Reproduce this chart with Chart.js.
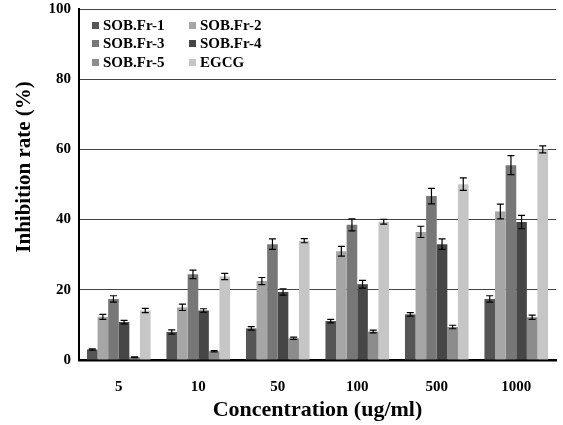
<!DOCTYPE html>
<html>
<head>
<meta charset="utf-8">
<script src="https://cdn.jsdelivr.net/npm/chart.js@4/dist/chart.umd.min.js"></script>
<style>
  body { margin: 0; background: #fff; }
  #wrap { position: relative; width: 563px; height: 425px; }
  #legend {
    position: absolute; left: 92px; top: 16px;
    display: grid; grid-template-columns: 97px 90px; row-gap: 0;
    font: bold 15px "Liberation Serif", serif; color: #000;
  }
  #legend .item { display: flex; align-items: center; height: 18.5px; }
  #legend .box { width: 7px; height: 7px; margin-right: 4px; }
</style>
</head>
<body>
<div id="wrap">
  <canvas id="chart" width="563" height="425"></canvas>
  <div id="legend"></div>
</div>
<script>
const categories = ['5', '10', '50', '100', '500', '1000'];
const seriesNames = ['SOB.Fr-1', 'SOB.Fr-2', 'SOB.Fr-3', 'SOB.Fr-4', 'SOB.Fr-5', 'EGCG'];
const seriesColors = ['#555555', '#a6a6a6', '#777777', '#464646', '#8c8c8c', '#c6c6c6'];

const fr1 = [3.0, 8.0, 9.0, 11.1, 13.0, 17.4];
const fr2 = [12.3, 15.0, 22.5, 31.0, 36.5, 42.3];
const fr3 = [17.4, 24.4, 33.0, 38.5, 46.7, 55.5];
const fr4 = [10.8, 14.1, 19.4, 21.6, 33.0, 39.3];
const fr5 = [0.8, 2.5, 6.2, 8.1, 9.4, 12.2];
const egcg = [14.1, 23.8, 34.0, 39.4, 50.1, 60.0];

const fr1Err = [0.2, 0.6, 0.5, 0.5, 0.5, 0.9];
const fr2Err = [0.7, 0.9, 1.0, 1.4, 1.6, 2.1];
const fr3Err = [0.9, 1.2, 1.5, 1.7, 2.2, 2.7];
const fr4Err = [0.5, 0.5, 0.9, 1.1, 1.5, 1.9];
const fr5Err = [0.1, 0.2, 0.3, 0.4, 0.5, 0.6];
const egcgErr = [0.6, 0.9, 0.6, 0.7, 1.8, 1.0];

const seriesValues = [fr1, fr2, fr3, fr4, fr5, egcg];
const seriesErrors = [fr1Err, fr2Err, fr3Err, fr4Err, fr5Err, egcgErr];

const yTitle = 'Inhibition rate (%)';
const serif = '"Liberation Serif", "Times New Roman", serif';

// error bars drawn on top of every bar
const errorBars = {
    id: 'errorBars',
    afterDatasetsDraw(chart) {
        const ctx = chart.ctx;
        const y = chart.scales.y;
        ctx.save();
        ctx.strokeStyle = '#000';
        ctx.lineWidth = 1.2;
        chart.data.datasets.forEach((ds, i) => {
            const meta = chart.getDatasetMeta(i);
            meta.data.forEach((bar, j) => {
                const v = ds.data[j];
                const e = ds.errors[j];
                const top = y.getPixelForValue(v + e);
                const bot = y.getPixelForValue(v - e);
                const x = bar.x;
                ctx.beginPath();
                ctx.moveTo(x, top); ctx.lineTo(x, bot);
                ctx.moveTo(x - 3.5, top); ctx.lineTo(x + 3.5, top);
                ctx.moveTo(x - 3.5, bot); ctx.lineTo(x + 3.5, bot);
                ctx.stroke();
            });
        });
        ctx.restore();
    }
};

// y title sits a bit above the middle of the plot in the original
const yTitleDraw = {
    id: 'yTitleDraw',
    afterDraw(chart) {
        const ctx = chart.ctx;
        const area = chart.chartArea;
        ctx.save();
        ctx.translate(25, area.top + (area.bottom - area.top) * 0.45);
        ctx.rotate(-Math.PI / 2);
        ctx.font = 'bold 21px ' + serif;
        ctx.fillStyle = '#000';
        ctx.textAlign = 'center';
        ctx.textBaseline = 'middle';
        ctx.fillText(yTitle, 0, 0);
        ctx.restore();
    }
};

const datasets = seriesNames.map((name, i) => ({
    label: name,
    data: seriesValues[i],
    errors: seriesErrors[i],
    backgroundColor: seriesColors[i],
    categoryPercentage: 0.8,
    barPercentage: 1.0
}));

new Chart(document.getElementById('chart'), {
    type: 'bar',
    data: { labels: categories, datasets: datasets },
    options: {
        responsive: false,
        animation: false,
        layout: { padding: { top: 9, right: 7, left: 0, bottom: 0 } },
        plugins: {
            legend: { display: false },
            tooltip: { enabled: false }
        },
        scales: {
            y: {
                min: 0,
                max: 100,
                ticks: {
                    stepSize: 20,
                    padding: 8,
                    color: '#000',
                    font: { family: serif, size: 15, weight: 'bold' }
                },
                grid: {
                    color: (c) => c.tick && c.tick.value === 0 ? 'rgba(0,0,0,0)' : '#444',
                    lineWidth: 1,
                    drawTicks: false
                },
                border: { color: '#000', width: 2 },
                afterFit(scale) {
                    scale.width = 79;
                    scale.paddingTop = 0;
                    scale.paddingBottom = 0;
                }
            },
            x: {
                ticks: {
                    padding: 18,
                    color: '#000',
                    font: { family: serif, size: 15, weight: 'bold' }
                },
                grid: { display: false, drawTicks: false },
                border: { color: '#000', width: 2.5 },
                title: {
                    display: true,
                    text: 'Concentration (ug/ml)',
                    color: '#000',
                    padding: { top: 0, bottom: 1 },
                    font: { family: serif, size: 22, weight: 'bold' }
                },
                afterFit(scale) { scale.height = 65; }
            }
        }
    },
    plugins: [errorBars, yTitleDraw]
});

// legend in two columns inside the plot
const legend = document.getElementById('legend');
seriesNames.forEach((name, i) => {
    const item = document.createElement('div');
    item.className = 'item';
    const box = document.createElement('span');
    box.className = 'box';
    box.style.background = seriesColors[i];
    const label = document.createElement('span');
    label.textContent = name;
    item.appendChild(box);
    item.appendChild(label);
    legend.appendChild(item);
});
</script>
</body>
</html>
